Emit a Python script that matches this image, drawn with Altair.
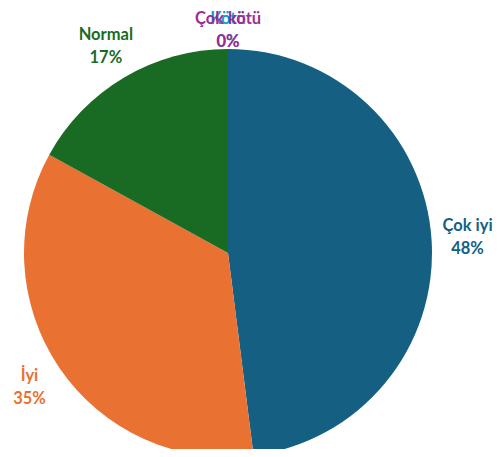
import altair as alt
import pandas as pd

categories = ["Çok iyi", "İyi", "Normal", "Kötü", "Çok kötü"]
values = [48, 35, 17, 0, 0]
colors = ["#156082", "#E97132", "#196B24", "#0F9ED5", "#A02B93"]
order = [1, 2, 3, 4, 5]

df = pd.DataFrame({
    "kategori": categories,
    "deger": values,
    "sira": order,
    "etiket": [f"{c}\n{v}%" for c, v in zip(categories, values)],
})

cx, cy = 220, 245
R = 204

color = alt.Color("kategori:N", scale=alt.Scale(domain=categories, range=colors), legend=None)

base = alt.Chart(df).encode(
    theta=alt.Theta("deger:Q", stack=True),
    order=alt.Order("sira:Q"),
    x=alt.value(cx),
    y=alt.value(cy),
)

shadow = alt.Chart(pd.DataFrame({"v": [1]})).mark_arc(
    radius=R + 2, color="#000000", opacity=0.10
).encode(theta=alt.Theta("v:Q"), x=alt.value(cx), y=alt.value(cy + 3))

arcs = base.mark_arc(radius=R).encode(color=color)

text_style = dict(font="Lato", fontSize=16.5, fontWeight="bold", dy=-11.5,
                  lineBreak="\n", align="center", baseline="middle", lineHeight=23)

labels_main = base.mark_text(radius=240, **text_style).encode(
    text="etiket:N", color=color
).transform_filter(alt.datum.deger > 0)

labels_zero = base.mark_text(radius=223, **text_style).encode(
    text="etiket:N", color=color
).transform_filter(alt.datum.deger <= 0)

chart = alt.layer(shadow, arcs, labels_main, labels_zero).properties(
    width=488, height=441, autosize=alt.AutoSizeParams(type="none"), padding=0
).configure_view(stroke=None)

chart.save("out.html", embed_options={"renderer": "svg", "actions": False})
